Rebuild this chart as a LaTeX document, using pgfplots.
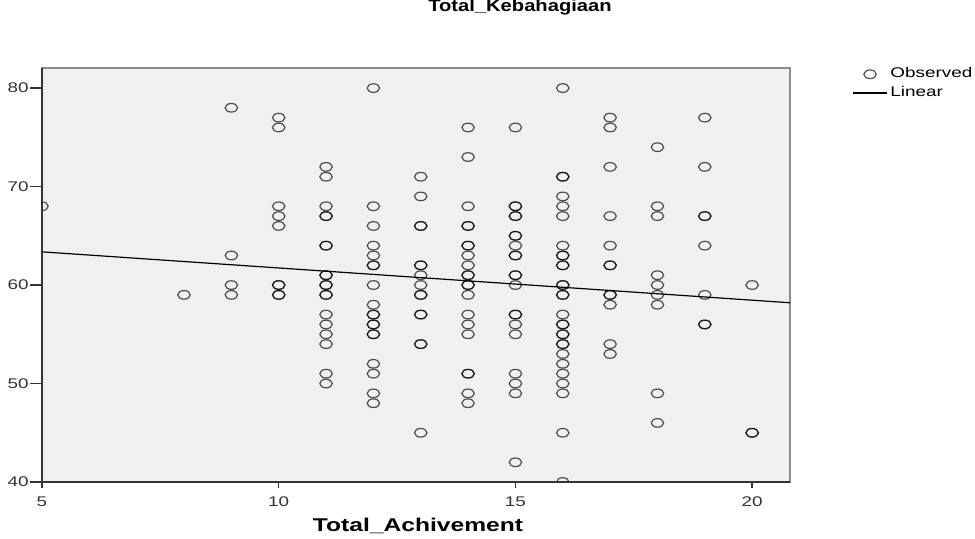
\documentclass[border=0pt]{standalone}
\usepackage{fontspec}
\setmainfont{Liberation Sans}
\usepackage{pgfplots}
\usepackage{pgfplotstable}
\pgfplotsset{compat=1.18}

\definecolor{plotbg}{HTML}{F0F0F0}
\definecolor{framegray}{HTML}{8C8C8C}
\definecolor{inkgray}{HTML}{333333}

% Total_Achivement vs Total_Kebahagiaan (repeated rows = overlapping cases)
\pgfplotstableread{
x y
5 68
8 59
9 78
9 63
9 60
9 59
10 77
10 76
10 68
10 67
10 66
10 60
10 60
10 59
10 59
11 72
11 71
11 68
11 67
11 67
11 64
11 64
11 61
11 61
11 60
11 60
11 59
11 59
11 57
11 56
11 55
11 54
11 51
11 50
12 80
12 68
12 66
12 64
12 63
12 62
12 62
12 60
12 58
12 57
12 57
12 56
12 56
12 55
12 55
12 52
12 51
12 49
12 48
13 71
13 69
13 66
13 66
13 62
13 62
13 61
13 60
13 59
13 59
13 57
13 57
13 54
13 54
13 45
14 76
14 73
14 68
14 66
14 66
14 64
14 64
14 63
14 62
14 61
14 61
14 60
14 60
14 59
14 57
14 56
14 55
14 51
14 51
14 49
14 48
15 76
15 68
15 68
15 67
15 67
15 65
15 65
15 64
15 63
15 63
15 61
15 61
15 60
15 57
15 57
15 56
15 55
15 51
15 50
15 49
15 42
16 80
16 71
16 71
16 69
16 68
16 67
16 64
16 63
16 63
16 62
16 62
16 60
16 60
16 59
16 59
16 57
16 56
16 56
16 55
16 55
16 54
16 54
16 53
16 52
16 51
16 50
16 49
16 45
16 40
17 77
17 76
17 72
17 67
17 64
17 62
17 62
17 59
17 59
17 58
17 54
17 53
18 74
18 68
18 67
18 61
18 60
18 59
18 58
18 49
18 46
19 77
19 72
19 67
19 67
19 64
19 59
19 56
19 56
20 60
20 45
20 45
}\observed

\begin{document}
\begin{tikzpicture}
\useasboundingbox (-21pt,-28.5pt) rectangle (466.5pt,241pt);
\begin{axis}[
    scale only axis,
    width=374pt, height=207pt,
    xmin=5, xmax=20.8,
    ymin=40, ymax=82.04,
    xtick={5,10,15,20},
    ytick={40,50,60,70,80},
    axis background/.style={fill=plotbg},
    axis line style={framegray, line width=0.8pt},
    tick align=outside,
    xtick pos=bottom, ytick pos=left,
    major tick length=6pt,
    xtick style={/pgfplots/major tick length=3pt, inkgray, line width=0.7pt},
    ytick style={inkgray, line width=0.7pt},
    /pgf/number format/assume math mode=true,
    ticklabel style={font=\fontsize{7}{8}\selectfont, text=inkgray, xscale=1.35},
    yticklabel style={anchor=east, inner sep=0.3pt},
    xticklabel style={anchor=north, inner sep=1pt},
    clip marker paths=true,
    title={Total\_Kebahagiaan},
    title style={at={(axis description cs:0.639,1.1184)}, anchor=center,
        font=\bfseries\fontsize{8.4}{10}\selectfont, xscale=1.2},
    xlabel={Total\_Achivement},
    xlabel style={at={(axis description cs:0.5027,-0.1063)}, anchor=center,
        font=\bfseries\fontsize{9.25}{11}\selectfont, xscale=1.33},
    legend style={at={(axis description cs:1.0829,1.0065)}, anchor=north west,
        draw=none, fill=none, inner sep=0pt, row sep=0.8pt,
        font=\fontsize{7}{8}\selectfont,
        nodes={inner sep=1pt, xscale=1.35}},
    legend cell align=left,
]
\addplot[only marks, mark=o, mark size=2.15pt,
    mark options={draw=black, draw opacity=0.68, line width=0.6pt, xscale=1.45}]
    table[x=x, y=y] {\observed};
\addlegendentry{Observed}
\addplot[black, line width=0.6pt] coordinates {(5,63.37) (20.8,58.2)};
\addlegendentry{Linear}
\coordinate (tl) at (rel axis cs:0,1);
\coordinate (o) at (rel axis cs:0,0);
\coordinate (br) at (rel axis cs:1,0);
\end{axis}
\draw[inkgray, line width=1.1pt] (tl) -- (o) -- (br);
\end{tikzpicture}
\end{document}
